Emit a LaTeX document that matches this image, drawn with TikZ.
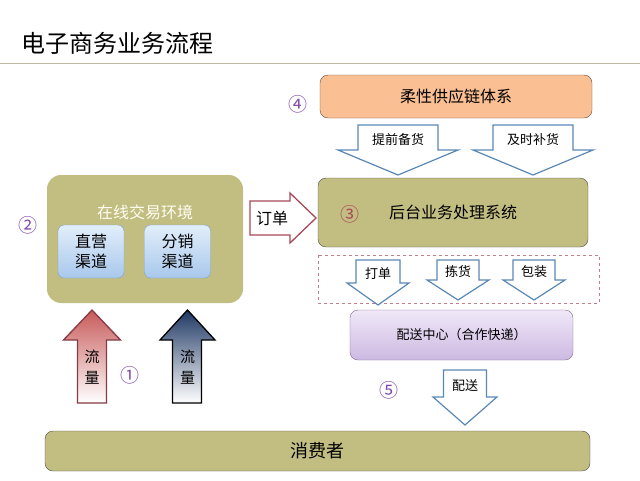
\documentclass[tikz,border=0pt]{standalone}
\usepackage{fontspec}
\setmainfont{Noto Sans CJK SC}
\usetikzlibrary{positioning,calc}

\definecolor{boxolive}{HTML}{C2BE82}
\definecolor{peach}{HTML}{FABF93}
\definecolor{lavtop}{HTML}{F0E8F8}
\definecolor{lavbot}{HTML}{CDB9E2}
\definecolor{chantop}{HTML}{E2EEFA}
\definecolor{chanbot}{HTML}{A8C8EC}
\definecolor{arrowblue}{HTML}{5A88B5}
\definecolor{numpurple}{HTML}{8048A8}
\definecolor{ordred}{HTML}{A84858}
\definecolor{flowred}{HTML}{C85A5A}
\definecolor{flowblue}{HTML}{1F3864}

% down block arrow: name, centre x, half shaft, half head, top, shoulder, tip, text
\newcommand{\downblock}[8]{%
  \draw[blockarrow] ({#2-#3},#5) -- ({#2+#3},#5) -- ({#2+#3},#6) -- ({#2+#4},#6)
    -- (#2,#7) -- ({#2-#4},#6) -- ({#2-#3},#6) -- cycle;
  \node[font=\fontsize{13}{15}\selectfont] (#1) at (#2,{(#5+#6)/2+2}) {#8};}

\begin{document}
\begin{tikzpicture}[x=1pt, y=-1pt,
    box/.style={draw=black!70, rounded corners=8pt, fill=boxolive, inner sep=0pt},
    chan/.style={draw=arrowblue!80, rounded corners=6pt, top color=chantop,
                 bottom color=chanbot, align=center, inner sep=0pt,
                 minimum width=66pt, minimum height=53pt,
                 font=\fontsize{16}{20}\selectfont},
    blockarrow/.style={draw=arrowblue, fill=white, line width=1.2pt, line join=miter},
    num/.style={text=numpurple, font=\fontsize{19}{21}\selectfont}
  ]
    \useasboundingbox (0,0) rectangle (640,480);

    % title
    \node[anchor=west, font=\fontsize{24}{28}\selectfont] (title) at (18,43) {电子商务业务流程};
    \draw[black!25!boxolive!60, line width=0.8pt] (0,63) -- (640,63);

    % online trading environment
    \node[fill=boxolive, rounded corners=14pt, minimum width=196pt, minimum height=128pt]
      (online) at (145,239) {};
    \node[text=white!95!yellow, font=\fontsize{16}{18}\selectfont] (onlinelbl) at (145,212) {在线交易环境};
    \node[chan] (direct) at (91,251.5) {直营\\渠道};
    \node[chan] (resell) at (177.5,251.5) {分销\\渠道};
    \node[num] (n2) at (28,225) {②};

    % traffic arrows
    \draw[draw=ordred!80!black, top color=flowred, bottom color=white, line width=1.3pt]
      (77.5,403) -- (106.5,403) -- (106.5,340) -- (120.5,340) -- (92,310)
      -- (63.5,340) -- (77.5,340) -- cycle;
    \node[align=center, font=\fontsize{15}{21}\selectfont] (flowa) at (92,367) {流\\量};
    \draw[draw=black, top color=flowblue, bottom color=white, line width=1.3pt]
      (172.5,403) -- (201.5,403) -- (201.5,340) -- (215,340) -- (187.5,310)
      -- (160,340) -- (172.5,340) -- cycle;
    \node[align=center, font=\fontsize{15}{21}\selectfont] (flowb) at (187.5,367) {流\\量};
    \node[num] (n1) at (130,375) {①};

    % order arrow
    \draw[draw=ordred, fill=white, line width=1.3pt]
      (250,201) -- (290,201) -- (290,193) -- (316,218) -- (290,243)
      -- (290,235) -- (250,235) -- cycle;
    \node[font=\fontsize{16}{18}\selectfont] (order) at (272,218) {订单};

    % supply chain
    \node[box, fill=peach, draw=black!60!peach, minimum width=272pt, minimum height=43pt,
          font=\fontsize{16}{18}\selectfont] (supply) at (456,96.5) {柔性供应链体系};
    \node[num] (n4) at (298,104) {④};
    \downblock{stock}{398}{40}{60}{125}{150}{175}{提前备货}
    \downblock{refill}{533}{40}{60}{125}{150}{175}{及时补货}

    % back office
    \node[box, minimum width=270pt, minimum height=69pt,
          font=\fontsize{16}{18}\selectfont] (backend) at (453,212.5) {后台业务处理系统};
    \node[text=ordred, font=\fontsize{19}{21}\selectfont] (n3) at (350,214) {③};

    % warehouse steps
    \draw[ordred!70, dashed, line width=0.5pt] (318,255) rectangle (599,303);
    \downblock{print}{378}{22}{31}{260}{283}{305}{打单}
    \downblock{pick}{458}{21}{31}{260}{280}{300}{拣货}
    \downblock{pack}{534}{21}{31}{260}{280}{300}{包装}

    % distribution
    \node[draw=numpurple!40!gray, rounded corners=8pt, top color=lavtop, bottom color=lavbot,
          minimum width=223pt, minimum height=50pt,
          font=\fontsize{13}{15}\selectfont] (dist) at (461.5,335) {配送中心（合作快递）};
    \node[num] (n5) at (389,390) {⑤};
    \downblock{ship}{465}{21.5}{32}{370}{397}{425}{配送}

    % consumer
    \node[box, minimum width=545pt, minimum height=40pt,
          font=\fontsize{18}{20}\selectfont] (consumer) at (317.5,451) {消费者};
  \end{tikzpicture}
\end{document}
